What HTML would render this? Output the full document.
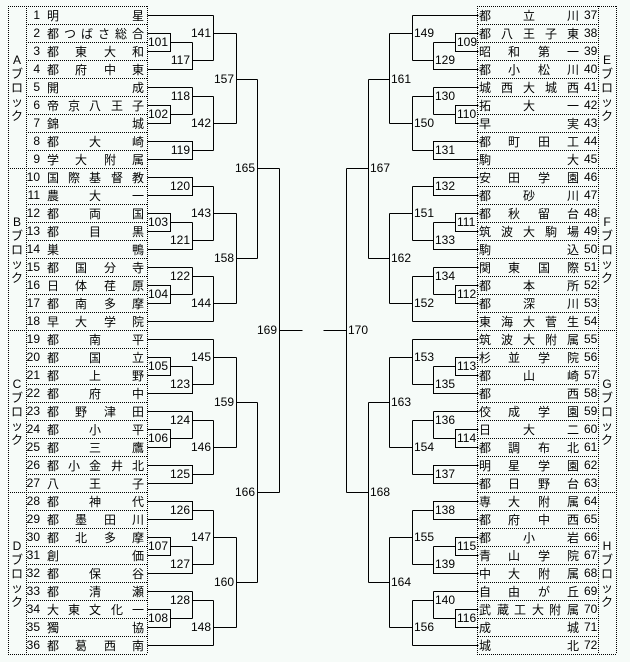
<!DOCTYPE html>
<html><head><meta charset="utf-8"><style>
html,body{margin:0;padding:0;background:#f6fbf8;}
svg{display:block;}
.n{font-family:"Liberation Sans",sans-serif;font-size:12px;fill:#000;}
.j{font-family:"Liberation Sans","Noto Sans CJK JP",sans-serif;font-size:12px;fill:#000;}
.b{font-family:"Liberation Sans","Noto Sans CJK JP",sans-serif;font-size:12px;fill:#000;text-anchor:middle;}
</style></head><body>
<svg width="630" height="662" xmlns="http://www.w3.org/2000/svg">
<defs>
<pattern id="dh" patternUnits="userSpaceOnUse" width="2" height="18" x="0" y="6"><rect x="0" y="0" width="1" height="1" fill="#000"/></pattern>
</defs>
<rect width="630" height="662" fill="#f6fbf8"/>
<rect x="26" y="24" width="121" height="630" fill="url(#dh)"/>
<rect x="478" y="24" width="120" height="630" fill="url(#dh)"/>
<g stroke="#000" stroke-width="1" stroke-dasharray="1 1" fill="none" shape-rendering="crispEdges">
<path d="M8.5 6V654M26.5 6V654M147.5 6V654M8 6.5H148M8 654.5H148M8 168.5H26M8 330.5H26M8 492.5H26"/>
<path d="M477.5 6V654M598.5 6V654M616.5 6V654M477 6.5H617M477 654.5H617M598 168.5H617M598 330.5H617M598 492.5H617"/>
</g>
<g stroke="#000" stroke-width="1" fill="none" shape-rendering="crispEdges" transform="translate(0.5,0.5)">
<path d="M147 15H213M147 33H170V51H147M170 42H192M147 69H192V42M192 60H213M213 15V60M213 33H236
M147 87H192M147 105H170V123H147M170 114H192M192 87V114M192 96H213
M147 141H192V159H147M192 150H213M213 96V150M213 123H236M236 33V123M236 79H257
M147 177H192V195H147M192 186H213
M147 213H170V231H147M170 222H192M147 249H192V222M192 240H213
M213 186V240M213 213H236
M147 267H192M147 285H170V303H147M170 294H192M192 267V294M192 276H213
M147 321H213M213 276V321M213 303H236
M236 213V303M236 258H257
M257 79V258M257 168H279
M147 339H213M147 357H170V375H147M170 366H192M147 393H192V366M192 384H213M213 339V384M213 357H236
M147 411H192M147 429H170V447H147M170 438H192M192 411V438M192 420H213
M147 465H192V483H147M192 474H213M213 420V474M213 447H236
M236 357V447M236 402H257
M147 501H192V519H147M192 510H213
M147 537H170V555H147M170 546H192M147 573H192V546M192 564H213
M213 510V564M213 537H236
M147 591H192M147 609H170V627H147M170 618H192M192 591V618M192 600H213
M147 645H213M213 600V645M213 627H236
M236 537V627M236 582H257
M257 402V582M257 492H279
M279 168V492M279 330H302"/>
</g>
<g stroke="#000" stroke-width="1" fill="none" shape-rendering="crispEdges" transform="translate(625.5,0.5) scale(-1,1)">
<path d="M147 15H213M147 33H170V51H147M170 42H192M147 69H192V42M192 60H213M213 15V60M213 33H236
M147 87H192M147 105H170V123H147M170 114H192M192 87V114M192 96H213
M147 141H192V159H147M192 150H213M213 96V150M213 123H236M236 33V123M236 79H257
M147 177H192V195H147M192 186H213
M147 213H170V231H147M170 222H192M147 249H192V222M192 240H213
M213 186V240M213 213H236
M147 267H192M147 285H170V303H147M170 294H192M192 267V294M192 276H213
M147 321H213M213 276V321M213 303H236
M236 213V303M236 258H257
M257 79V258M257 168H279
M147 339H213M147 357H170V375H147M170 366H192M147 393H192V366M192 384H213M213 339V384M213 357H236
M147 411H192M147 429H170V447H147M170 438H192M192 411V438M192 420H213
M147 465H192V483H147M192 474H213M213 420V474M213 447H236
M236 357V447M236 402H257
M147 501H192V519H147M192 510H213
M147 537H170V555H147M170 546H192M147 573H192V546M192 564H213
M213 510V564M213 537H236
M147 591H192M147 609H170V627H147M170 618H192M192 591V618M192 600H213
M147 645H213M213 600V645M213 627H236
M236 537V627M236 582H257
M257 402V582M257 492H279
M279 168V492M279 330H302"/>
</g>
<g class="n" text-anchor="end">
<text x="168" y="46">101</text><text x="190" y="64">117</text><text x="211" y="37">141</text>
<text x="168" y="118">102</text><text x="190" y="100">118</text><text x="190" y="154">119</text><text x="211" y="127">142</text><text x="234" y="83">157</text>
<text x="190" y="190">120</text><text x="168" y="226">103</text><text x="190" y="244">121</text><text x="211" y="217">143</text>
<text x="190" y="280">122</text><text x="168" y="298">104</text><text x="211" y="307">144</text><text x="234" y="262">158</text><text x="255" y="172">165</text>
<text x="168" y="370">105</text><text x="190" y="388">123</text><text x="211" y="361">145</text>
<text x="190" y="424">124</text><text x="168" y="442">106</text><text x="190" y="478">125</text><text x="211" y="451">146</text><text x="234" y="406">159</text>
<text x="190" y="514">126</text><text x="168" y="550">107</text><text x="190" y="568">127</text><text x="211" y="541">147</text>
<text x="190" y="604">128</text><text x="168" y="622">108</text><text x="211" y="631">148</text><text x="234" y="586">160</text><text x="255" y="496">166</text>
<text x="277" y="334">169</text>
</g>
<g class="n">
<text x="457" y="46">109</text><text x="435" y="64">129</text><text x="414" y="37">149</text>
<text x="457" y="118">110</text><text x="435" y="100">130</text><text x="435" y="154">131</text><text x="414" y="127">150</text><text x="391" y="83">161</text>
<text x="435" y="190">132</text><text x="457" y="226">111</text><text x="435" y="244">133</text><text x="414" y="217">151</text>
<text x="435" y="280">134</text><text x="457" y="298">112</text><text x="414" y="307">152</text><text x="391" y="262">162</text><text x="370" y="172">167</text>
<text x="457" y="370">113</text><text x="435" y="388">135</text><text x="414" y="361">153</text>
<text x="435" y="424">136</text><text x="457" y="442">114</text><text x="435" y="478">137</text><text x="414" y="451">154</text><text x="391" y="406">163</text>
<text x="435" y="514">138</text><text x="457" y="550">115</text><text x="435" y="568">139</text><text x="414" y="541">155</text>
<text x="435" y="604">140</text><text x="457" y="622">116</text><text x="414" y="631">156</text><text x="391" y="586">164</text><text x="370" y="496">168</text>
<text x="348" y="334">170</text>
</g>
<g class="n" text-anchor="end">
<text x="40" y="19">1</text><text x="40" y="37">2</text><text x="40" y="55">3</text><text x="40" y="73">4</text><text x="40" y="91">5</text><text x="40" y="109">6</text><text x="40" y="127">7</text><text x="40" y="145">8</text><text x="40" y="163">9</text>
<text x="40" y="181">10</text><text x="40" y="199">11</text><text x="40" y="217">12</text><text x="40" y="235">13</text><text x="40" y="253">14</text><text x="40" y="271">15</text><text x="40" y="289">16</text><text x="40" y="307">17</text><text x="40" y="325">18</text>
<text x="40" y="343">19</text><text x="40" y="361">20</text><text x="40" y="379">21</text><text x="40" y="397">22</text><text x="40" y="415">23</text><text x="40" y="433">24</text><text x="40" y="451">25</text><text x="40" y="469">26</text><text x="40" y="487">27</text>
<text x="40" y="505">28</text><text x="40" y="523">29</text><text x="40" y="541">30</text><text x="40" y="559">31</text><text x="40" y="577">32</text><text x="40" y="595">33</text><text x="40" y="613">34</text><text x="40" y="631">35</text><text x="40" y="649">36</text>
</g>
<g class="n">
<text x="584" y="19">37</text><text x="584" y="37">38</text><text x="584" y="55">39</text><text x="584" y="73">40</text><text x="584" y="91">41</text><text x="584" y="109">42</text><text x="584" y="127">43</text><text x="584" y="145">44</text><text x="584" y="163">45</text>
<text x="584" y="181">46</text><text x="584" y="199">47</text><text x="584" y="217">48</text><text x="584" y="235">49</text><text x="584" y="253">50</text><text x="584" y="271">51</text><text x="584" y="289">52</text><text x="584" y="307">53</text><text x="584" y="325">54</text>
<text x="584" y="343">55</text><text x="584" y="361">56</text><text x="584" y="379">57</text><text x="584" y="397">58</text><text x="584" y="415">59</text><text x="584" y="433">60</text><text x="584" y="451">61</text><text x="584" y="469">62</text><text x="584" y="487">63</text>
<text x="584" y="505">64</text><text x="584" y="523">65</text><text x="584" y="541">66</text><text x="584" y="559">67</text><text x="584" y="577">68</text><text x="584" y="595">69</text><text x="584" y="613">70</text><text x="584" y="631">71</text><text x="584" y="649">72</text>
</g>
<g class="j">
<text x="47 132" y="20">明星</text>
<text x="47 64 81 98 115 132" y="38">都つばさ総合</text>
<text x="47 75 104 132" y="56">都東大和</text>
<text x="47 75 104 132" y="74">都府中東</text>
<text x="47 132" y="92">開成</text>
<text x="47 68 89 111 132" y="110">帝京八王子</text>
<text x="47 132" y="128">錦城</text>
<text x="47 89 132" y="146">都大崎</text>
<text x="47 75 104 132" y="164">学大附属</text>
<text x="47 68 89 111 132" y="182">国際基督教</text>
<text x="47 89 132" y="200">農大一</text>
<text x="47 89 132" y="218">都両国</text>
<text x="47 89 132" y="236">都目黒</text>
<text x="47 132" y="254">巣鴨</text>
<text x="47 75 104 132" y="272">都国分寺</text>
<text x="47 75 104 132" y="290">日体荏原</text>
<text x="47 75 104 132" y="308">都南多摩</text>
<text x="47 75 104 132" y="326">早大学院</text>
<text x="47 89 132" y="344">都南平</text>
<text x="47 89 132" y="362">都国立</text>
<text x="47 89 132" y="380">都上野</text>
<text x="47 89 132" y="398">都府中</text>
<text x="47 75 104 132" y="416">都野津田</text>
<text x="47 89 132" y="434">都小平</text>
<text x="47 89 132" y="452">都三鷹</text>
<text x="47 68 89 111 132" y="470">都小金井北</text>
<text x="47 89 132" y="488">八王子</text>
<text x="47 89 132" y="506">都神代</text>
<text x="47 75 104 132" y="524">都墨田川</text>
<text x="47 75 104 132" y="542">都北多摩</text>
<text x="47 132" y="560">創価</text>
<text x="47 89 132" y="578">都保谷</text>
<text x="47 89 132" y="596">都清瀬</text>
<text x="47 68 89 111 132" y="614">大東文化一</text>
<text x="47 132" y="632">獨協</text>
<text x="47 75 104 132" y="650">都葛西南</text>
</g>
<g class="j">
<text x="479 523 567" y="20">都立川</text>
<text x="479 501 523 545 567" y="38">都八王子東</text>
<text x="479 508 538 567" y="56">昭和第一</text>
<text x="479 508 538 567" y="74">都小松川</text>
<text x="479 501 523 545 567" y="92">城西大城西</text>
<text x="479 523 567" y="110">拓大一</text>
<text x="479 567" y="128">早実</text>
<text x="479 508 538 567" y="146">都町田工</text>
<text x="479 567" y="164">駒大</text>
<text x="479 508 538 567" y="182">安田学園</text>
<text x="479 523 567" y="200">都砂川</text>
<text x="479 508 538 567" y="218">都秋留台</text>
<text x="479 501 523 545 567" y="236">筑波大駒場</text>
<text x="479 567" y="254">駒込</text>
<text x="479 508 538 567" y="272">関東国際</text>
<text x="479 523 567" y="290">都本所</text>
<text x="479 523 567" y="308">都深川</text>
<text x="479 501 523 545 567" y="326">東海大菅生</text>
<text x="479 501 523 545 567" y="344">筑波大附属</text>
<text x="479 508 538 567" y="362">杉並学院</text>
<text x="479 523 567" y="380">都山崎</text>
<text x="479 567" y="398">都西</text>
<text x="479 508 538 567" y="416">佼成学園</text>
<text x="479 523 567" y="434">日大二</text>
<text x="479 508 538 567" y="452">都調布北</text>
<text x="479 508 538 567" y="470">明星学園</text>
<text x="479 508 538 567" y="488">都日野台</text>
<text x="479 508 538 567" y="506">専大附属</text>
<text x="479 508 538 567" y="524">都府中西</text>
<text x="479 523 567" y="542">都小岩</text>
<text x="479 508 538 567" y="560">青山学院</text>
<text x="479 508 538 567" y="578">中大附属</text>
<text x="479 508 538 567" y="596">自由が丘</text>
<text x="479 497 514 532 549 567" y="614">武蔵工大附属</text>
<text x="479 567" y="632">成城</text>
<text x="479 567" y="650">城北</text>
</g>
<g class="b">
<text x="17" y="64">A</text><text x="17" y="78">ブ</text><text x="17" y="92">ロ</text><text x="17" y="106">ッ</text><text x="17" y="120">ク</text>
<text x="17" y="226">B</text><text x="17" y="240">ブ</text><text x="17" y="254">ロ</text><text x="17" y="268">ッ</text><text x="17" y="282">ク</text>
<text x="17" y="388">C</text><text x="17" y="402">ブ</text><text x="17" y="416">ロ</text><text x="17" y="430">ッ</text><text x="17" y="444">ク</text>
<text x="17" y="550">D</text><text x="17" y="564">ブ</text><text x="17" y="578">ロ</text><text x="17" y="592">ッ</text><text x="17" y="606">ク</text>
<text x="607" y="64">E</text><text x="607" y="78">ブ</text><text x="607" y="92">ロ</text><text x="607" y="106">ッ</text><text x="607" y="120">ク</text>
<text x="607" y="226">F</text><text x="607" y="240">ブ</text><text x="607" y="254">ロ</text><text x="607" y="268">ッ</text><text x="607" y="282">ク</text>
<text x="607" y="388">G</text><text x="607" y="402">ブ</text><text x="607" y="416">ロ</text><text x="607" y="430">ッ</text><text x="607" y="444">ク</text>
<text x="607" y="550">H</text><text x="607" y="564">ブ</text><text x="607" y="578">ロ</text><text x="607" y="592">ッ</text><text x="607" y="606">ク</text>
</g>
</svg>
</body></html>
